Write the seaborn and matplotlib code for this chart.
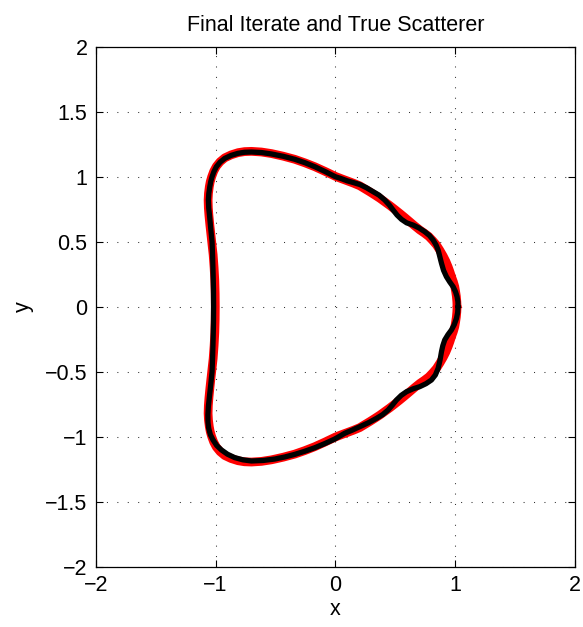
import matplotlib
matplotlib.use("Agg")
import matplotlib.pyplot as plt
import seaborn as sns
import pandas as pd

# True scatterer boundary (closed curve, counterclockwise from the rightmost point)
true_x = [1.016, 1.014, 1.010, 1.004, 0.997, 0.985, 0.970, 0.956, 0.941, 0.922,
          0.900, 0.873, 0.844, 0.813, 0.780, 0.743, 0.705, 0.662, 0.620, 0.579,
          0.538, 0.497, 0.455, 0.413, 0.371, 0.331, 0.290, 0.247, 0.204, 0.152,
          0.100, 0.050, 0.000, -0.086, -0.172, -0.255, -0.339, -0.436, -0.533, -0.617,
          -0.700, -0.758, -0.812, -0.870, -0.923, -0.962, -0.993, -1.015, -1.032, -1.044,
          -1.052, -1.059, -1.062, -1.060, -1.055, -1.047, -1.038, -1.029, -1.020, -1.012,
          -1.006, -1.003, -1.002,
          -1.003, -1.006, -1.012, -1.020, -1.029, -1.038, -1.047, -1.055, -1.060, -1.062,
          -1.059, -1.052, -1.044, -1.032, -1.015, -0.993, -0.962, -0.923, -0.870, -0.812,
          -0.758, -0.700, -0.617, -0.533, -0.436, -0.339, -0.255, -0.172, -0.086, 0.000,
          0.050, 0.100, 0.152, 0.204, 0.247, 0.290, 0.331, 0.371, 0.413, 0.455,
          0.497, 0.538, 0.579, 0.620, 0.662, 0.705, 0.743, 0.780, 0.813, 0.844,
          0.873, 0.900, 0.922, 0.941, 0.956, 0.970, 0.985, 0.997, 1.004, 1.010,
          1.014, 1.016]
true_y = [0.000, 0.040, 0.080, 0.117, 0.154, 0.192, 0.230, 0.270, 0.308, 0.350,
          0.390, 0.433, 0.475, 0.508, 0.540, 0.566, 0.590, 0.622, 0.655, 0.687,
          0.718, 0.748, 0.778, 0.806, 0.834, 0.858, 0.882, 0.906, 0.930, 0.950,
          0.968, 0.985, 1.003, 1.041, 1.077, 1.107, 1.134, 1.158, 1.178, 1.190,
          1.195, 1.193, 1.185, 1.168, 1.145, 1.115, 1.080, 1.042, 1.000, 0.962,
          0.923, 0.872, 0.821, 0.760, 0.700, 0.625, 0.550, 0.475, 0.400, 0.300,
          0.200, 0.100, 0.000,
          -0.100, -0.200, -0.300, -0.400, -0.475, -0.550, -0.625, -0.700, -0.760, -0.821,
          -0.872, -0.923, -0.962, -1.000, -1.042, -1.080, -1.115, -1.145, -1.168, -1.185,
          -1.193, -1.195, -1.190, -1.178, -1.158, -1.134, -1.107, -1.077, -1.041, -1.003,
          -0.985, -0.968, -0.950, -0.930, -0.906, -0.882, -0.858, -0.834, -0.806, -0.778,
          -0.748, -0.718, -0.687, -0.655, -0.622, -0.590, -0.566, -0.540, -0.508, -0.475,
          -0.433, -0.390, -0.350, -0.308, -0.270, -0.230, -0.192, -0.154, -0.117, -0.080,
          -0.040, 0.000]

# Final reconstruction iterate (closed curve)
iter_x = [1.024, 1.023, 1.016, 1.003, 0.983, 0.955, 0.927, 0.903, 0.886, 0.872,
          0.858, 0.840, 0.816, 0.785, 0.746, 0.700, 0.649, 0.595, 0.552, 0.515,
          0.482, 0.450, 0.412, 0.365, 0.315, 0.260, 0.204, 0.150, 0.100, 0.050,
          0.000, -0.086, -0.172, -0.255, -0.339, -0.435, -0.533, -0.617, -0.700, -0.758,
          -0.812, -0.870, -0.923, -0.962, -0.993, -1.013, -1.029, -1.040, -1.048, -1.056,
          -1.060, -1.057, -1.050, -1.040, -1.029, -1.024, -1.020, -1.017, -1.016,
          -1.017, -1.020, -1.024, -1.029, -1.040, -1.052, -1.060, -1.064, -1.063, -1.057,
          -1.043, -1.021, -0.990, -0.951, -0.900, -0.840, -0.772, -0.700, -0.603, -0.506,
          -0.422, -0.339, -0.255, -0.172, -0.088, -0.005, 0.078, 0.140, 0.204, 0.275,
          0.343, 0.395, 0.440, 0.476, 0.510, 0.550, 0.594, 0.648, 0.705, 0.757,
          0.802, 0.835, 0.858, 0.874, 0.886, 0.897, 0.913, 0.940, 0.969, 0.993,
          1.011, 1.021, 1.024]
iter_y = [0.000, 0.038, 0.077, 0.115, 0.154, 0.190, 0.231, 0.280, 0.334, 0.385,
          0.436, 0.476, 0.513, 0.548, 0.577, 0.605, 0.628, 0.645, 0.672, 0.705,
          0.744, 0.783, 0.821, 0.858, 0.885, 0.915, 0.940, 0.955, 0.968, 0.985,
          1.000, 1.040, 1.077, 1.108, 1.134, 1.157, 1.175, 1.186, 1.190, 1.188,
          1.180, 1.164, 1.141, 1.112, 1.077, 1.040, 1.000, 0.962, 0.923, 0.872,
          0.821, 0.760, 0.700, 0.600, 0.500, 0.375, 0.250, 0.125, 0.000,
          -0.125, -0.250, -0.375, -0.500, -0.600, -0.700, -0.770, -0.833, -0.890, -0.936,
          -0.985, -1.025, -1.068, -1.102, -1.135, -1.161, -1.178, -1.187, -1.183, -1.172,
          -1.156, -1.136, -1.112, -1.085, -1.053, -1.018, -0.974, -0.950, -0.923, -0.893,
          -0.859, -0.830, -0.795, -0.757, -0.718, -0.682, -0.654, -0.632, -0.615, -0.592,
          -0.564, -0.525, -0.474, -0.410, -0.346, -0.300, -0.256, -0.215, -0.179, -0.137,
          -0.090, -0.045, 0.000]

x_ticks = [-2, -1, 0, 1, 2]
x_tick_labels = ["\u22122", "\u22121", "0", "1", "2"]
y_ticks = [-2, -1.5, -1, -0.5, 0, 0.5, 1, 1.5, 2]
y_tick_labels = ["\u22122", "\u22121.5", "\u22121", "\u22120.5", "0", "0.5", "1", "1.5", "2"]

sns.set_theme(style="white")
plt.rcParams["font.family"] = ["Liberation Sans", "DejaVu Sans"]

fig = plt.figure(figsize=(5.83, 6.27), dpi=100)
ax = fig.add_axes([0.1642, 0.0962, 0.822, 0.8293])

true_df = pd.DataFrame({"x": true_x, "y": true_y})
iter_df = pd.DataFrame({"x": iter_x, "y": iter_y})

sns.lineplot(data=true_df, x="x", y="y", sort=False, estimator=None, ax=ax,
             color="#ff0000", linewidth=6.3, solid_joinstyle="round", solid_capstyle="round")
sns.lineplot(data=iter_df, x="x", y="y", sort=False, estimator=None, ax=ax,
             color="black", linewidth=3.8, solid_joinstyle="round", solid_capstyle="round")

ax.set_xlim(-2, 2)
ax.set_ylim(-2, 2)
ax.set_xticks(x_ticks)
ax.set_xticklabels(x_tick_labels)
ax.set_yticks(y_ticks)
ax.set_yticklabels(y_tick_labels)

ax.grid(True, color="#333333", linestyle=(0, (1, 9)), linewidth=0.75)
for s in ax.spines.values():
    s.set_visible(True)
    s.set_color("black")
    s.set_linewidth(0.9)

ax.tick_params(direction="in", length=5, width=0.8, color="black",
               top=True, right=True, bottom=True, left=True,
               labelsize=15.5, labelcolor="black", pad=6)

ax.set_title("Final Iterate and True Scatterer", fontsize=15.5, pad=11, color="black")
ax.set_xlabel("x", fontsize=15.5, labelpad=2, color="black")
ax.set_ylabel("y", fontsize=15.5, labelpad=8, color="black")

fig.savefig("out.png", dpi=100, facecolor="white")
